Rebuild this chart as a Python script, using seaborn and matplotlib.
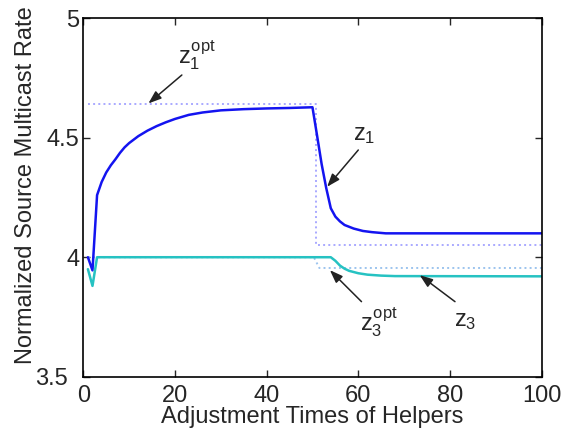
import matplotlib
matplotlib.use('Agg')
import matplotlib.pyplot as plt
import matplotlib.transforms as mtransforms
import seaborn as sns
import pandas as pd

# values
x_z1 = [1, 2, 3, 4, 5, 6, 7, 8, 9, 10, 12, 14, 16, 18, 20, 23, 26, 30, 35, 40, 45, 50,
        51, 52, 53, 54, 55, 56, 57, 59, 61, 63, 66, 70, 80, 100]
z1 = [4.00, 3.945, 4.26, 4.315, 4.355, 4.385, 4.41, 4.437, 4.46, 4.478, 4.507, 4.53, 4.549,
      4.565, 4.579, 4.596, 4.606, 4.615, 4.62, 4.623, 4.625, 4.628,
      4.51, 4.39, 4.29, 4.205, 4.17, 4.15, 4.135, 4.12, 4.11, 4.105, 4.10, 4.10, 4.10, 4.10]

x_z3 = [1, 2, 3, 50, 54, 55, 56, 57, 58, 60, 62, 65, 68, 100]
z3 = [3.95, 3.88, 4.0, 4.0, 4.0, 3.985, 3.965, 3.952, 3.943, 3.933, 3.927, 3.923, 3.921, 3.92]

x_z1opt = [1, 50.7, 50.7, 100]
z1opt = [4.64, 4.64, 4.05, 4.05]

x_z3opt = [1, 50.3, 51.5, 100]
z3opt = [4.0, 4.0, 3.955, 3.955]

xticks = [0, 20, 40, 60, 80, 100]
yticks = [3.5, 4, 4.5, 5]
ytick_labels = ['3.5', '4', '4.5', '5']

sns.set_style('ticks')
plt.rcParams['font.family'] = ['Liberation Sans', 'DejaVu Sans']
plt.rcParams['mathtext.fontset'] = 'custom'
plt.rcParams['mathtext.rm'] = 'Liberation Sans'
plt.rcParams['mathtext.it'] = 'Liberation Sans'

fig = plt.figure(figsize=(5.63, 4.28), dpi=100)
ax = fig.add_axes([0.148, 0.120, 0.814, 0.837])

# optimal values (dotted)
sns.lineplot(x=x_z1opt, y=z1opt, ax=ax, color='#a9a9ff', linestyle=':', linewidth=1.4,
             sort=False, estimator=None)
sns.lineplot(x=x_z3opt, y=z3opt, ax=ax, color='#9cc4ee', linestyle=':', linewidth=1.4,
             sort=False, estimator=None)

# rates
sns.lineplot(x=x_z1, y=z1, ax=ax, color='#1414f0', linewidth=1.8, estimator=None)
sns.lineplot(x=x_z3, y=z3, ax=ax, color='#26c2c2', linewidth=1.8, estimator=None)

arrow = dict(arrowstyle='-|>,head_length=0.6,head_width=0.22', color='#222222', lw=1.1,
             mutation_scale=13, shrinkA=0, shrinkB=0)
ax.annotate('', xy=(14.2, 4.644), xytext=(21.5, 4.763), arrowprops=arrow)
ax.annotate('', xy=(53.2, 4.295), xytext=(60.0, 4.449), arrowprops=arrow)
ax.annotate('', xy=(53.8, 3.946), xytext=(60.7, 3.814), arrowprops=arrow)
ax.annotate('', xy=(73.4, 3.925), xytext=(81.1, 3.814), arrowprops=arrow)

ax.text(24.8, 4.846, r'$z_1^{opt}$', fontsize=17, ha='center', va='center')
ax.text(61.3, 4.511, r'$z_1$', fontsize=17, ha='center', va='center')
ax.text(64.5, 3.729, r'$z_3^{opt}$', fontsize=17, ha='center', va='center')
ax.text(83.3, 3.733, r'$z_3$', fontsize=17, ha='center', va='center')

ax.set_xlim(0, 100)
ax.set_ylim(3.5, 5)
ax.set_xticks(xticks)
ax.set_yticks(yticks)
ax.set_yticklabels(ytick_labels)
ax.tick_params(direction='in', top=True, right=True, length=5, width=1, labelsize=17)
ax.tick_params(axis='x', pad=6)
ax.tick_params(axis='y', pad=3)
for s in ax.spines.values():
    s.set_linewidth(1.2)
    s.set_color('black')

# bottom y label sits a little to the left, as in the original
lab = ax.get_yticklabels()[0]
lab.set_transform(lab.get_transform() + mtransforms.ScaledTranslation(-8 / 72, 0, fig.dpi_scale_trans))

ax.set_xlabel('Adjustment Times of Helpers', fontsize=17)
ax.xaxis.set_label_coords(0.5, -0.083)
ax.set_ylabel('Normalized Source Multicast Rate', fontsize=17)
ax.yaxis.set_label_coords(-0.1, 0.535)

fig.savefig('out.png', dpi=100)
